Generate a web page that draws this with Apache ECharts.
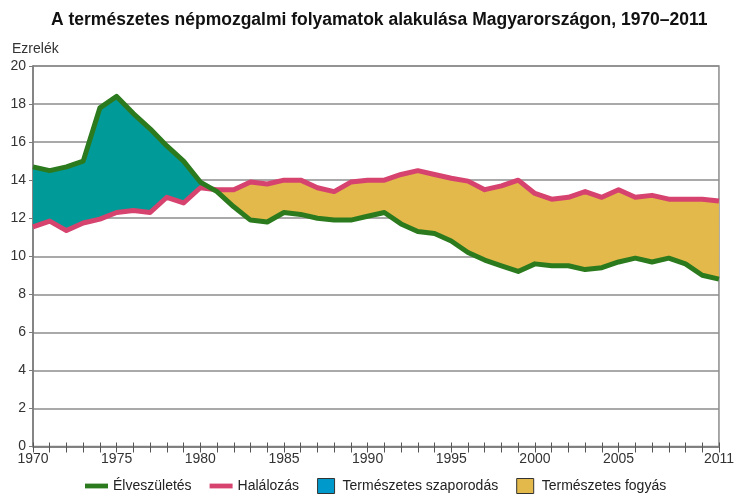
<!DOCTYPE html>
<html>
<head>
<meta charset="utf-8">
<script src="https://cdn.jsdelivr.net/npm/echarts@6/dist/echarts.min.js"></script>
<style>
html,body{margin:0;padding:0;background:#fff;}
#chart{width:737px;height:495px;}
</style>
</head>
<body>
<div id="chart"></div>
<script>
var years = [];
for (var y = 1970; y <= 2011; y++) years.push(String(y));

var tickLabels = ['1970','1975','1980','1985','1990','1995','2000','2005','2011'];

var births = [14.7,14.5,14.7,15.0,17.8,18.4,17.5,16.7,15.8,15.0,
              13.9,13.4,12.6,11.9,11.8,12.3,12.2,12.0,11.9,11.9,
              12.1,12.3,11.7,11.3,11.2,10.8,10.2,9.8,9.5,9.2,
              9.6,9.5,9.5,9.3,9.4,9.7,9.9,9.7,9.9,9.6,
              9.0,8.8];

var deaths = [11.55,11.85,11.35,11.75,11.95,12.3,12.4,12.3,13.1,12.8,
              13.6,13.5,13.5,13.9,13.8,14.0,14.0,13.6,13.4,13.9,
              14.0,14.0,14.3,14.5,14.3,14.1,13.95,13.5,13.7,14.0,
              13.3,13.0,13.1,13.4,13.1,13.5,13.1,13.2,13.0,13.0,
              13.0,12.9];

var base = births.map(function(b,i){ return Math.min(b, deaths[i]); });
var surplus = births.map(function(b,i){ return Math.max(b - deaths[i], 0); });
var deficit = births.map(function(b,i){ return Math.max(deaths[i] - b, 0); });

var FONT = 'Liberation Sans, Arial, sans-serif';
var GREEN = '#2c7a1e', PINK = '#d6436f', TEAL = '#009b98', YELLOW = '#e3b94b', BLUE = '#0099cc';

var chart = echarts.init(document.getElementById('chart'));
chart.setOption({
  animation: false,
  backgroundColor: '#fff',
  textStyle: { fontFamily: FONT },
  title: [
    { text: 'A természetes népmozgalmi folyamatok alakulása Magyarországon, 1970–2011',
      left: 46, top: 6,
      textStyle: { fontFamily: FONT, fontSize: 17.5, fontWeight: 'bold', color: '#111' } },
    { text: 'Ezrelék', left: 7, top: 37,
      textStyle: { fontFamily: FONT, fontSize: 14, fontWeight: 'normal', color: '#333' } }
  ],
  grid: { left: 33, right: 15, top: 66, bottom: 48.5, show: true,
          borderColor: '#8c8c8c', borderWidth: 1.5, backgroundColor: 'transparent' },
  legend: {
    left: 85, top: 478, padding: 0,
    itemWidth: 23, itemHeight: 15, itemGap: 18,
    symbolKeepAspect: true,
    textStyle: { fontFamily: FONT, fontSize: 14, color: '#222' },
    data: [
      { name: 'Élveszületés', icon: 'path://M0,0H24V5H0Z', itemStyle: { color: GREEN } },
      { name: 'Halálozás', icon: 'path://M0,0H24V5H0Z', itemStyle: { color: PINK } },
      { name: 'Természetes szaporodás', icon: 'path://M0,0H17V15H0Z', itemStyle: { color: BLUE, borderColor: '#333', borderWidth: 1 } },
      { name: 'Természetes fogyás', icon: 'path://M0,0H17V15H0Z', itemStyle: { color: YELLOW, borderColor: '#333', borderWidth: 1 } }
    ]
  },
  xAxis: [
    { type: 'category', data: years, boundaryGap: false,
      axisLine: { lineStyle: { color: '#7a7a7a', width: 1.5 } },
      axisTick: { interval: 0, length: 6, lineStyle: { color: '#555', width: 1 } },
      axisLabel: { interval: 0, margin: 6, fontSize: 14, color: '#333', fontFamily: FONT,
        formatter: function(v){ return tickLabels.indexOf(v) >= 0 ? v : ''; } },
      splitLine: { show: false } },
    { type: 'category', data: years, boundaryGap: false, position: 'bottom',
      axisLine: { show: false },
      axisTick: { interval: 0, inside: true, length: 4, lineStyle: { color: '#555', width: 1 } },
      axisLabel: { show: false }, splitLine: { show: false } }
  ],
  yAxis: {
    type: 'value', min: 0, max: 20, interval: 2,
    axisLine: { show: true, lineStyle: { color: '#7a7a7a', width: 1.5 } },
    axisTick: { show: true, length: 4, lineStyle: { color: '#7a7a7a' } },
    axisLabel: { margin: 7, fontSize: 14, color: '#333', fontFamily: FONT },
    splitLine: { lineStyle: { color: '#8c8c8c', width: 1.5 } }
  },
  series: [
    { name: 'base', type: 'line', stack: 'gap', data: base, symbol: 'none', silent: true,
      lineStyle: { width: 0, opacity: 0 }, z: 1 },
    { name: 'Természetes szaporodás', type: 'line', stack: 'gap', data: surplus, symbol: 'none',
      lineStyle: { width: 0, opacity: 0 }, itemStyle: { color: TEAL },
      areaStyle: { color: TEAL, opacity: 1 }, z: 1 },
    { name: 'Természetes fogyás', type: 'line', stack: 'gap', data: deficit, symbol: 'none',
      lineStyle: { width: 0, opacity: 0 }, itemStyle: { color: YELLOW },
      areaStyle: { color: YELLOW, opacity: 1 }, z: 1 },
    { name: 'Halálozás', type: 'line', data: deaths, symbol: 'none',
      lineStyle: { color: PINK, width: 5, join: 'round' }, itemStyle: { color: PINK }, z: 3 },
    { name: 'Élveszületés', type: 'line', data: births, symbol: 'none',
      lineStyle: { color: GREEN, width: 5, join: 'round' }, itemStyle: { color: GREEN }, z: 4 }
  ]
});
</script>
</body>
</html>
